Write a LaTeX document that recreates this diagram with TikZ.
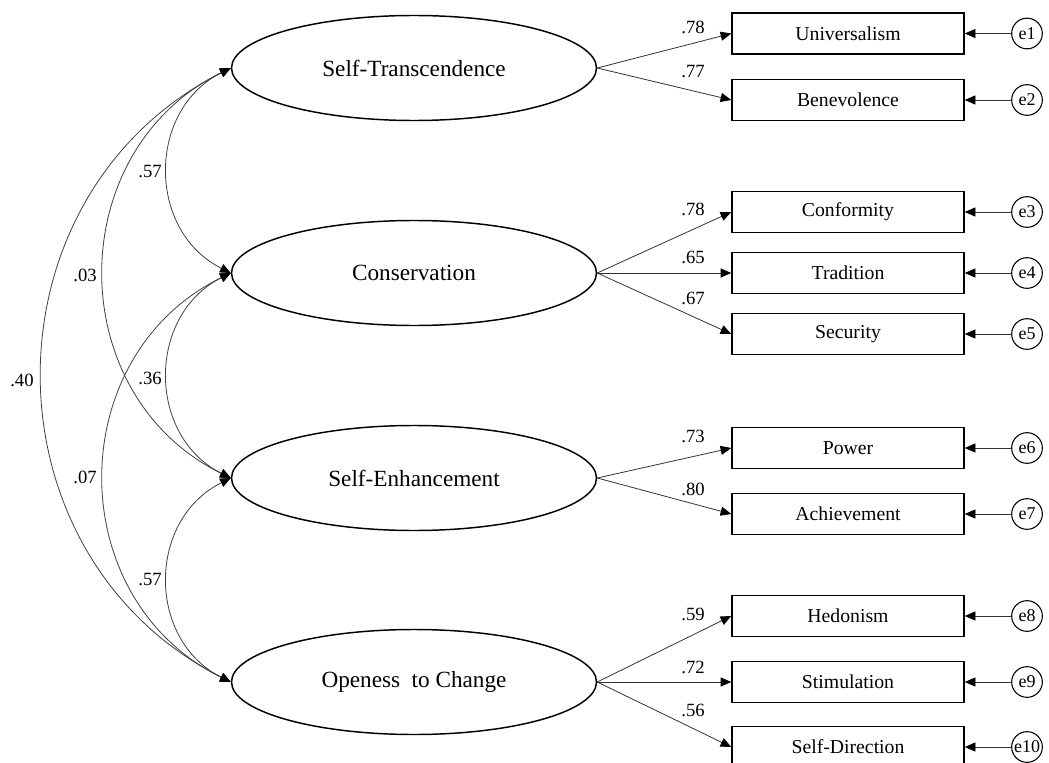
\documentclass[tikz,border=0pt]{standalone}
\usepackage{fontspec}
\setmainfont{Liberation Serif}
\usetikzlibrary{shapes.geometric,arrows.meta}
\begin{document}
\begin{tikzpicture}[x=0.75pt,y=-0.75pt,
  latent/.style={ellipse,draw=black,line width=1.1pt,minimum width=273.75pt,
    minimum height=78.75pt,inner sep=0pt,font=\fontsize{17.4}{20}\selectfont},
  observed/.style={rectangle,draw=black,line width=1.1pt,minimum width=174pt,
    minimum height=30.75pt,inner sep=0pt,font=\fontsize{14.8}{17}\selectfont},
  errterm/.style={circle,draw=black,line width=0.8pt,minimum size=23pt,
    inner sep=0pt,font=\fontsize{13.5}{15}\selectfont},
  coef/.style={inner sep=0pt,font=\fontsize{14}{16}\selectfont},
  tip/.tip={Triangle[length=8pt,width=6.8pt,color=black]},
  load/.style={draw=black!80,line width=0.6pt,-tip},
  cov/.style={draw=black!75,line width=0.6pt,tip-tip},
]
\useasboundingbox (0,0) rectangle (1049,763);

% latent factors
\node[latent] (ST) at (414,68)  {Self-Transcendence};
\node[latent] (CO) at (414,273) {Conservation};
\node[latent] (SE) at (414,478) {Self-Enhancement};
\node[latent] (OC) at (414,682) {Openess\ \ to Change};

% indicators
\node[observed] (univ) at (848,33.5) {Universalism};
\node[observed] (bene) at (848,100)  {Benevolence};
\node[observed] (conf) at (848,212)  {Conformity};
\node[observed] (trad) at (848,273)  {Tradition};
\node[observed] (secu) at (848,334)  {Security};
\node[observed] (powe) at (848,448)  {Power};
\node[observed] (achi) at (848,514)  {Achievement};
\node[observed] (hedo) at (848,616)  {Hedonism};
\node[observed] (stim) at (848,682)  {Stimulation};
\node[observed] (sdir) at (848,747)  {Self-Direction};

% error terms
\foreach \e/\ind in {1/univ,2/bene,3/conf,4/trad,5/secu,6/powe,7/achi,8/hedo,9/stim,10/sdir}{
  \path (\ind.center) ++(179,0) node[errterm] (e\e) {e\e};
  \draw[load] (e\e) -- (\ind.east);
}

% factor loadings
\draw[load] (ST.east) -- (univ.west);
\draw[load] (ST.east) -- (bene.west);
\draw[load] (CO.east) -- (conf.west);
\draw[load] (CO.east) -- (trad.west);
\draw[load] (CO.east) -- (secu.west);
\draw[load] (SE.east) -- (powe.west);
\draw[load] (SE.east) -- (achi.west);
\draw[load] (OC.east) -- (hedo.west);
\draw[load] (OC.east) -- (stim.west);
\draw[load] (OC.east) -- (sdir.west);

\node[coef] (l1)  at (693,27.5) {.78};
\node[coef] (l2)  at (693,72)   {.77};
\node[coef] (l3)  at (693,209)  {.78};
\node[coef] (l4)  at (693,257)  {.65};
\node[coef] (l5)  at (693,298)  {.67};
\node[coef] (l6)  at (693,436)  {.73};
\node[coef] (l7)  at (693,489)  {.80};
\node[coef] (l8)  at (693,614)  {.59};
\node[coef] (l9)  at (693,667)  {.72};
\node[coef] (l10) at (693,710)  {.56};

% factor covariances
\draw[cov] (ST.west) .. controls +(-84,42) and +(-84,-42) .. (CO.west);
\draw[cov] (CO.west) .. controls +(-84,42) and +(-84,-42) .. (SE.west);
\draw[cov] (SE.west) .. controls +(-84,42) and +(-84,-42) .. (OC.west);
\draw[cov] (ST.west) .. controls +(-169,83) and +(-169,-83) .. (SE.west);
\draw[cov] (CO.west) .. controls +(-169,83) and +(-169,-83) .. (OC.west);
\draw[cov] (ST.west) .. controls +(-251,127) and +(-251,-127) .. (OC.west);

\node[coef] (c1) at (150,172) {.57};
\node[coef] (c2) at (85,275)  {.03};
\node[coef] (c3) at (22,380)  {.40};
\node[coef] (c4) at (150,378) {.36};
\node[coef] (c5) at (85,477)  {.07};
\node[coef] (c6) at (150,580) {.57};
\end{tikzpicture}
\end{document}
